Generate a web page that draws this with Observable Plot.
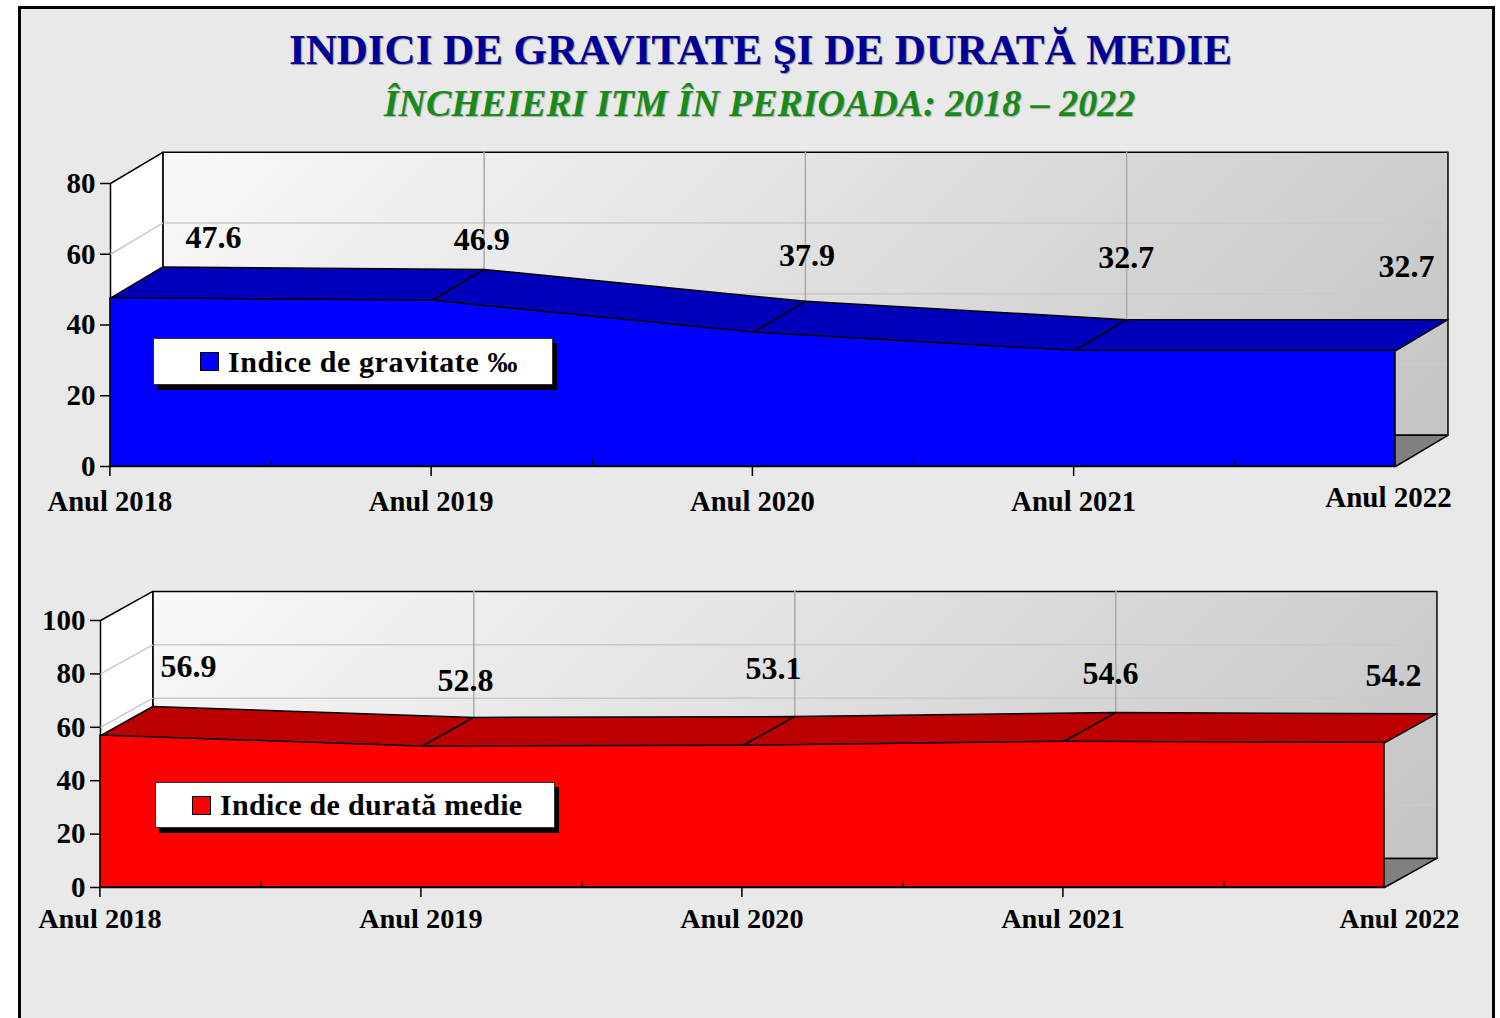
<!DOCTYPE html>
<html lang="ro">
<head>
<meta charset="utf-8">
<script src="https://cdn.jsdelivr.net/npm/d3@7"></script>
<script src="https://cdn.jsdelivr.net/npm/@observablehq/plot@0.6"></script>
<style>
html,body{margin:0;padding:0;width:1500px;height:1018px;overflow:hidden;background:#fff;}
#page{position:relative;width:1500px;height:1018px;overflow:hidden;font-family:"Liberation Serif",serif;font-weight:bold;}
#frame{position:absolute;left:18px;top:6px;width:1471px;height:1100px;background:#e9e9e9;border:3.5px solid #000;}
.t{position:absolute;left:0;width:1521px;text-align:center;white-space:nowrap;}
#title{top:25px;font-size:43px;color:#000099;text-shadow:1px 1px 1px #8a8a8a;}
#subtitle{top:81px;font-size:38px;font-style:italic;color:#178a1c;text-shadow:1px 1px 1px #aaa;width:1519px;}
.plot{position:absolute;left:0;}
.legend{position:absolute;background:#fff;border:1px solid #333;box-shadow:4px 5px 0 #000;box-sizing:border-box;color:#000;white-space:nowrap;}
.legend i{position:absolute;border:1px solid #000;box-sizing:border-box;}
.legend span{position:absolute;font-size:30px;line-height:34px;}
svg text{font-family:"Liberation Serif",serif;font-weight:bold;fill:#000;}
</style>
</head>
<body>
<div id="page">
  <div id="frame"></div>
  <div class="t" id="title">INDICI DE GRAVITATE ŞI DE DURATĂ MEDIE</div>
  <div class="t" id="subtitle">ÎNCHEIERI ITM ÎN PERIOADA: 2018 – 2022</div>
</div>
<script>
const years = ["Anul 2018", "Anul 2019", "Anul 2020", "Anul 2021", "Anul 2022"];
const gravityValues = [47.6, 46.9, 37.9, 32.7, 32.7];
const durationValues = [56.9, 52.8, 53.1, 54.6, 54.2];
const gravityTicks = [0, 20, 40, 60, 80];
const durationTicks = [0, 20, 40, 60, 80, 100];
const gravityLabelShift = [[103, -60], [50, -61], [54, -77], [52, -93], [11, -84]];
const durationLabelShift = [[88, -69], [44, -66], [31, -77], [47, -68], [9, -67]];

function panel(o) {
  const {values, ticks, yMax, depthY, top, height, left, right, y0, yTop, front, side, id, labelShift,
         tickPad, tickFont, lastFont, lastDx, lastDy, minor} = o;
  const depthX = 0.163;
  const last = values.length - 1;
  const rows = values.map((v, i) => ({i, v}));
  const pts = (a) => a.map(([x, y]) => ({x, y}));
  const poly = (a, opt) => Plot.line(pts(a), {x: "x", y: "y", curve: "linear-closed", stroke: "#000", strokeWidth: 1.5, ...opt});
  const gradients = (index, scales) => {
    const ns = "http://www.w3.org/2000/svg";
    const defs = document.createElementNS(ns, "defs");
    const make = (name, x1, y1, a, stops) => {
      const g = document.createElementNS(ns, "linearGradient");
      g.setAttribute("id", name);
      g.setAttribute("gradientUnits", "userSpaceOnUse");
      g.setAttribute("x1", x1); g.setAttribute("y1", y1);
      g.setAttribute("x2", x1 + a); g.setAttribute("y2", y1 + a);
      stops.forEach(([off, col]) => {
        const s = document.createElementNS(ns, "stop");
        s.setAttribute("offset", off); s.setAttribute("stop-color", col);
        g.appendChild(s);
      });
      defs.appendChild(g);
    };
    const bx0 = scales.x(depthX), bx1 = scales.x(last + depthX);
    const by1 = scales.y(yMax + depthY), by0 = scales.y(depthY);
    make(id + "wall", bx0, by1, ((bx1 - bx0) + (by0 - by1)) / 2, [[0, "#f9f9f9"], [1, "#c4c4c4"]]);
    const lx = scales.x(0), ly = scales.y(yMax);
    make(id + "side", lx, ly, 130, [[0, "#ffffff"], [0.62, "#ffffff"], [0.68, "#f4f4f4"], [1, "#dcdcdc"]]);
    return defs;
  };
  const surfaces = d3.pairs(rows).map(([a, b]) => poly(
    [[a.i, a.v], [b.i, b.v], [b.i + depthX, b.v + depthY], [a.i + depthX, a.v + depthY]], {fill: side}));
  const gridY = ticks.filter(t => t > 0 && t < yMax);
  const plot = Plot.plot({
    width: 1500, height,
    marginLeft: left, marginRight: 1500 - right,
    marginTop: yTop - top, marginBottom: top + height - y0,
    style: {background: "transparent", overflow: "visible"},
    x: {domain: [0, last]}, y: {domain: [0, yMax]},
    marks: [
      gradients,
      poly([[depthX, depthY], [last + depthX, depthY], [last + depthX, yMax + depthY], [depthX, yMax + depthY]], {fill: `url(#${id}wall)`}),
      Plot.ruleY(gridY, {y: d => d + depthY, x1: depthX, x2: last + depthX, stroke: "#cacaca", strokeWidth: 1.5}),
      Plot.ruleX([1, 2, 3], {x: d => d + depthX, y1: depthY, y2: yMax + depthY, stroke: "#a9a9a9", strokeWidth: 1.5}),
      poly([[0, 0], [depthX, depthY], [depthX, yMax + depthY], [0, yMax]], {fill: `url(#${id}side)`}),
      Plot.link(gridY, {x1: 0, y1: d => d, x2: depthX, y2: d => d + depthY, stroke: "#cacaca", strokeWidth: 1.5}),
      poly([[0, 0], [last, 0], [last + depthX, depthY], [depthX, depthY]], {fill: "#808080"}),
      Plot.line(pts([[last + depthX, depthY], [last + depthX, yMax + depthY]]), {x: "x", y: "y", stroke: "#333", strokeWidth: 1.5}),
      ...surfaces,
      Plot.areaY(rows, {x: "i", y: "v", fill: front, stroke: "#000", strokeWidth: 1.5}),
      Plot.ruleX([0.5, 1.5, 2.5, 3.5], {y1: 0, y2: minor, stroke: "#000", strokeWidth: 1.2}),
      Plot.axisY({ticks, tickSize: 10, tickPadding: 5, fontSize: 29, tickFormat: d => d, stroke: "#000", strokeWidth: 1.5}),
      Plot.axisX({ticks: [0, 1, 2, 3], tickSize: 10, tickPadding: tickPad, fontSize: tickFont, tickFormat: i => years[i], strokeWidth: 1.5, dx: -0.6}),
      Plot.axisX({ticks: [last], tickSize: 0, tickPadding: tickPad + 10, fontSize: lastFont, tickFormat: i => years[i], dx: lastDx, dy: lastDy}),
      ...rows.map(r => Plot.text([r], {
        x: "i", y: "v", text: d => d.v.toFixed(1), fontSize: 32,
        dx: labelShift[r.i][0], dy: labelShift[r.i][1]
      }))
    ]
  });
  plot.classList.add("plot");
  plot.style.top = top + "px";
  document.getElementById("page").appendChild(plot);
}

function legend(o) {
  const d = document.createElement("div");
  d.className = "legend";
  d.style.cssText = `left:${o.left}px;top:${o.top}px;width:${o.w}px;height:${o.h}px`;
  d.innerHTML = `<i style="left:${o.sx}px;top:${o.sy}px;width:19px;height:19px;background:${o.color}"></i><span style="left:${o.tx}px;top:${o.ty}px;letter-spacing:${o.ls}px">${o.text}</span>`;
  document.getElementById("page").appendChild(d);
}

panel({id: "g", values: gravityValues, ticks: gravityTicks, yMax: 80, depthY: 8.8, top: 130, height: 400,
  left: 110, right: 1395, y0: 466, yTop: 183, front: "#0000ff", side: "#0000bb",
  labelShift: gravityLabelShift, tickPad: 14, tickFont: 28.6, lastFont: 29, lastDx: -7, lastDy: -4, minor: 1.7});
panel({id: "d", values: durationValues, ticks: durationTicks, yMax: 100, depthY: 10.9, top: 570, height: 380,
  left: 100, right: 1384, y0: 887, yTop: 620, front: "#ff0000", side: "#bb0000",
  labelShift: durationLabelShift, tickPad: 10, tickFont: 28.3, lastFont: 27.5, lastDx: 15, lastDy: 1, minor: 2.2});
legend({left: 153, top: 338, w: 400, h: 47, sx: 46, sy: 13, tx: 74, ty: 6, color: "#0000ff", ls: 0.6, text: "Indice de gravitate ‰"});
legend({left: 155, top: 782, w: 400, h: 46, sx: 36, sy: 13, tx: 64, ty: 5, color: "#ff0000", ls: 0.3, text: "Indice de durată medie"});
</script>
</body>
</html>
